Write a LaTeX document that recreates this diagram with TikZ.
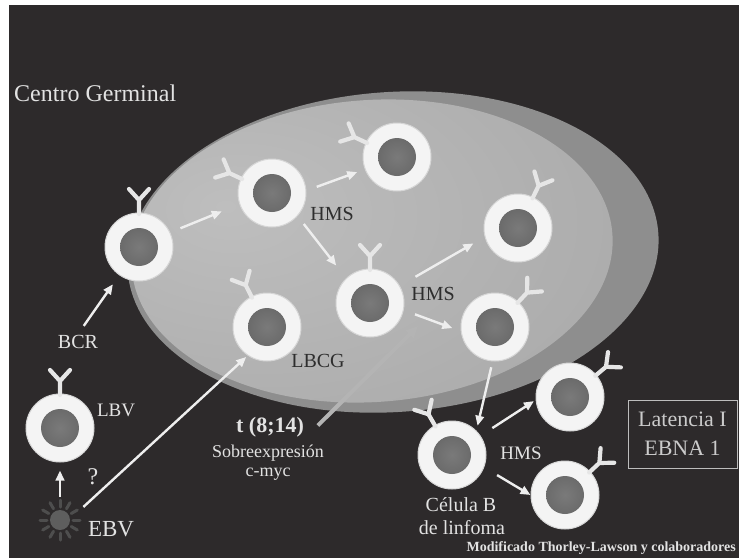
\documentclass[tikz,border=0pt]{standalone}
\usepackage{fontspec}
\setmainfont{Liberation Serif}
\usetikzlibrary{arrows.meta}

\definecolor{bgdark}{HTML}{2D2A2B}
\definecolor{bandgray}{HTML}{8E8E8E}
\definecolor{gcedge}{HTML}{A4A4A4}
\definecolor{gcmid}{HTML}{AFAFAF}
\definecolor{gclight}{HTML}{BEBEBE}
\definecolor{ringwhite}{HTML}{F4F4F4}
\definecolor{ringedge}{HTML}{D6D6D6}
\definecolor{nucleuslight}{HTML}{7A7A7A}
\definecolor{nucleusdark}{HTML}{5F5F5F}
\definecolor{textwhite}{HTML}{E2E2E2}
\definecolor{textdark}{HTML}{2E2E2E}
\definecolor{abwhite}{HTML}{E6E6E6}
\definecolor{arrowwhite}{HTML}{EEEEEE}
\definecolor{longgray}{HTML}{B4B4B4}
\definecolor{boxgray}{HTML}{BDBDBD}
\definecolor{sungray}{HTML}{5E5E5E}
\definecolor{raygray}{HTML}{4E4E4E}

\pgfdeclareradialshading{gcshade}{\pgfpoint{-15bp}{8bp}}{%
  color(0bp)=(gclight); color(30bp)=(gcmid); color(55bp)=(gcedge); color(100bp)=(gcedge)}

\newcommand{\sizept}[1]{\fontsize{#1}{#1}\selectfont}

\tikzset{
  cell/.style={circle, minimum size=68pt, inner sep=0pt, fill=ringwhite,
    draw=ringedge, line width=1pt,
    path picture={\shade[inner color=nucleuslight, outer color=nucleusdark]
      (path picture bounding box.center) circle[radius=19pt];}},
  abline/.style={draw=abwhite, line width=4.2pt, line cap=round, line join=round},
  antibody/.pic={\draw[abline] (0,-33) -- (0,-47) (0,-47) -- ++(-10,-11) (0,-47) -- ++(10,-11);},
  arr/.style={draw=arrowwhite, line width=2.4pt, -{Triangle[length=10pt,width=8.5pt]}},
  grayarr/.style={draw=longgray, line width=4pt, -{Triangle[length=12pt,width=11pt]}},
  lightlbl/.style={text=textwhite, inner sep=1pt},
  darklbl/.style={text=textdark, inner sep=1pt},
  sunray/.style={draw=raygray, line width=3pt, line cap=round}
}

\begin{document}
\begin{tikzpicture}[x=1pt, y=-1pt]
\useasboundingbox (0,0) rectangle (739,558);
\clip (0,0) rectangle (739,558);
\fill[white] (0,0) rectangle (739,558);
\fill[bgdark] (9,5) rectangle (739,558);

% germinal centre: darker outer band and shaded interior
\fill[bandgray, rotate around={4:(393,252)}] (393,252) ellipse [x radius=266, y radius=160];
\shade[shading=gcshade, rotate around={4:(372,251)}] (372,251) ellipse [x radius=241, y radius=151];

% cells
\node[cell] (A) at (139,247) {};
\node[cell] (B) at (272,193) {};
\node[cell] (C) at (397,157) {};
\node[cell] (D) at (370,303) {};
\node[cell] (E) at (267,327) {};
\node[cell] (F) at (518,228) {};
\node[cell] (G) at (495,327) {};
\node[cell] (H) at (60,428) {};
\node[cell] (I) at (452,455) {};
\node[cell] (J) at (570,397) {};
\node[cell] (K) at (565,495) {};

% surface receptors
\pic[rotate=0]   at (A) {antibody};
\pic[rotate=65]  at (B) {antibody};
\pic[rotate=65]  at (C) {antibody};
\pic[rotate=0]   at (D) {antibody};
\pic[rotate=27]  at (E) {antibody};
\pic[rotate=-26] at (F) {antibody};
\pic[rotate=-43] at (G) {antibody};
\pic[rotate=0]   at (H) {antibody};
\pic[rotate=30]  at (I) {antibody};
\pic[rotate=-50] at (J) {antibody};
\pic[rotate=-47] at (K) {antibody};

% virus
\node[circle, fill=sungray, minimum size=20pt, inner sep=0pt] (ebvsun) at (60,520) {};
\foreach \a in {0,30,...,330}
  \draw[sunray] (ebvsun.center) ++(\a:13) -- ++(\a:7);

% labels
\node[lightlbl, anchor=west, font=\sizept{24}] (cg) at (13,93) {Centro Germinal};
\node[darklbl, font=\sizept{20}] (hmsa) at (332,214) {HMS};
\node[darklbl, font=\sizept{20}] (hmsb) at (433,294) {HMS};
\node[darklbl, font=\sizept{20}] (lbcg) at (318,361) {LBCG};
\node[lightlbl, font=\sizept{19}] (lbv) at (116,410) {LBV};
\node[lightlbl, font=\sizept{20}] (bcr) at (78,342) {BCR};
\node[lightlbl, font=\sizept{24}] (qm) at (93,477) {?};
\node[lightlbl, font=\sizept{23}] (ebv) at (111,529) {EBV};
\node[lightlbl, font=\bfseries\sizept{22}] (t814) at (270,427) {t (8;14)};
\node[lightlbl, font=\sizept{18}] (sobre) at (268,453) {Sobreexpresión};
\node[lightlbl, font=\sizept{18}] (cmyc) at (268,474) {c-myc};
\node[lightlbl, font=\sizept{20}] (celb) at (461,505) {Célula B};
\node[lightlbl, font=\sizept{20}] (delinf) at (462,528) {de linfoma};
\node[lightlbl, font=\sizept{19}] (hmsc) at (521,453) {HMS};
\node[draw=boxgray, line width=1pt, align=center, text=textwhite!90!black,
      minimum width=109pt, minimum height=68pt, inner sep=0pt,
      font=\fontsize{22}{29}\selectfont] (latbox) at (682.5,434) {Latencia I\\EBNA 1};
\node[lightlbl, anchor=east, font=\bfseries\sizept{14}] (credit) at (737,548)
  {Modificado Thorley-Lawson y colaboradores};

% transitions between cells
\draw[arr, shorten <=11pt, shorten >=19pt] (A.25) -- (B.199);
\draw[arr, shorten <=11pt, shorten >=8pt] (B.4) -- (C.201);
\draw[arr, shorten <=10pt, shorten >=16pt] (B.-42) -- (D.134);
\draw[arr, shorten <=18pt, shorten >=13pt] (D.30) -- (F.195);
\draw[arr, shorten <=12pt, shorten >=9pt] (D.-12) -- (G.187);
\draw[arr, shorten <=6pt, shorten >=5pt] (G.266) -- (I.45);
\draw[arr, shorten <=14pt, shorten >=2pt] (I.34) -- (J.185);
\draw[arr, shorten <=15pt, shorten >=0pt] (I.-21) -- (K.180);
\draw[arr, shorten <=10pt, shorten >=11pt] (bcr.north) -- (A.235);
\draw[arr, shorten <=13pt, shorten >=8pt] (ebvsun) -- (H);
\draw[arr, shorten <=18pt, shorten >=2pt] (ebvsun.5) -- (E.236);

% translocation pointer
\coordinate (myc) at (418,326);
\draw[grayarr, shorten <=18pt] (t814.south east) -- (myc);
\end{tikzpicture}
\end{document}
